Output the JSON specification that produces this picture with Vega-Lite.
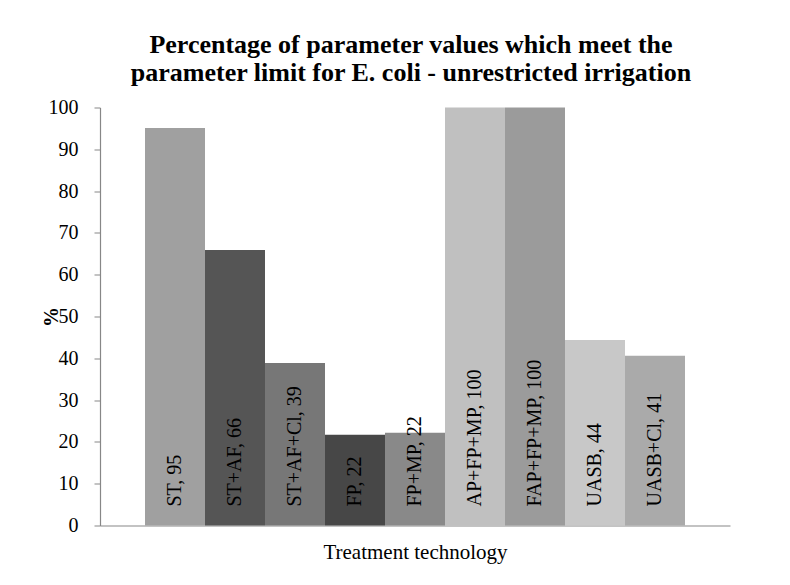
{
  "$schema": "https://vega.github.io/schema/vega-lite/v6.json",
  "autosize": "none",
  "width": 630,
  "height": 418,
  "padding": {"left": 100, "top": 107.5, "right": 60, "bottom": 59.5},
  "background": "white",
  "title": {
    "text": ["Percentage of parameter  values which meet the", "parameter limit for  E. coli - unrestricted irrigation"],
    "font": "Liberation Serif",
    "fontSize": 26,
    "fontWeight": "bold",
    "color": "black",
    "lineHeight": 28,
    "anchor": "middle",
    "offset": 12,
    "dx": -4
  },
  "data": {
    "values": [
      {"tech": "ST", "value": 95.1},
      {"tech": "ST+AF", "value": 65.9},
      {"tech": "ST+AF+Cl", "value": 38.9},
      {"tech": "FP", "value": 21.7},
      {"tech": "FP+MP", "value": 22.2},
      {"tech": "AP+FP+MP", "value": 100},
      {"tech": "FAP+FP+MP", "value": 100},
      {"tech": "UASB", "value": 44.4},
      {"tech": "UASB+Cl", "value": 40.6}
    ]
  },
  "transform": [
    {"calculate": "datum.tech + ', ' + round(datum.value)", "as": "label"}
  ],
  "encoding": {
    "x": {
      "field": "tech",
      "type": "nominal",
      "sort": null,
      "scale": {"paddingInner": 0, "paddingOuter": 0.75},
      "axis": {
        "title": "Treatment technology",
        "labels": false,
        "ticks": false,
        "domainColor": "#878787",
        "domainWidth": 1.2,
        "titleFont": "Liberation Serif",
        "titleFontSize": 21,
        "titleFontWeight": "normal",
        "titleColor": "black",
        "titlePadding": 16
      }
    }
  },
  "layer": [
    {
      "mark": {"type": "bar"},
      "encoding": {
        "y": {
          "field": "value",
          "type": "quantitative",
          "scale": {"domain": [0, 100], "nice": false},
          "axis": {
            "title": "%",
            "values": [0, 10, 20, 30, 40, 50, 60, 70, 80, 90, 100],
            "grid": false,
            "domainColor": "#878787",
            "domainWidth": 1.2,
            "tickColor": "#878787",
            "tickSize": 6,
            "labelPadding": 16,
            "labelFont": "Liberation Serif",
            "labelFontSize": 20,
            "labelColor": "black",
            "titleFont": "Liberation Serif",
            "titleFontSize": 20,
            "titleFontWeight": "bold",
            "titleColor": "black",
            "titleX": -49,
            "titleY": 209,
            "titleAngle": 270,
            "titleBaseline": "middle",
            "titleAlign": "center"
          }
        },
        "color": {
          "field": "tech",
          "type": "nominal",
          "legend": null,
          "scale": {
            "domain": ["ST", "ST+AF", "ST+AF+Cl", "FP", "FP+MP", "AP+FP+MP", "FAP+FP+MP", "UASB", "UASB+Cl"],
            "range": ["#A0A0A0", "#555555", "#777777", "#474747", "#898989", "#C0C0C0", "#9B9B9B", "#C8C8C8", "#AAAAAA"]
          }
        }
      }
    },
    {
      "mark": {
        "type": "text",
        "angle": 270,
        "align": "left",
        "baseline": "middle",
        "dx": 19,
        "font": "Liberation Serif",
        "fontSize": 20,
        "color": "black"
      },
      "encoding": {
        "y": {"datum": 0, "type": "quantitative"},
        "text": {"field": "label"}
      }
    }
  ],
  "config": {
    "view": {"stroke": null}
  }
}
